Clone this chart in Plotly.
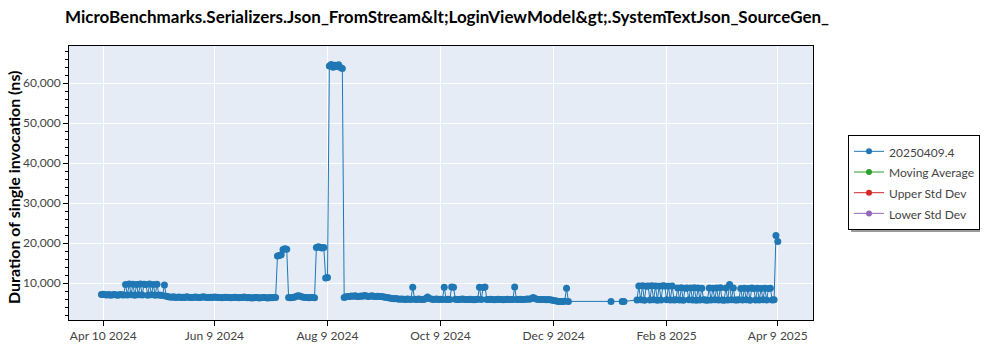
import datetime as dt
import plotly.graph_objects as go

TITLE = "MicroBenchmarks.Serializers.Json_FromStream&amp;lt;LoginViewModel&amp;gt;.SystemTextJson_SourceGen_"
SERIES_NAME = "20250409.4"
Y_TITLE = "Duration of single invocation (ns)"

# Daily runs: each block starts on the given date, one value per day (ns)
spring_start = "2024-04-09"
spring_ns = [
    7200, 7250, 7100, 7050, 7150, 7000, 7100, 7200, 7050, 7000, 7150, 7100, 7050,
    9700, 7050, 9800, 7100, 9750, 7000, 9700, 7100, 9800, 7050, 9750, 9700, 7000,
    9800, 7100, 9650, 7000, 9750, 7050,
    7000, 6950, 9550, 6750,
]

early_summer_start = "2024-05-15"
early_summer_ns = [
    6600, 6550, 6500, 6600, 6450, 6500, 6550, 6400, 6500, 6450,
    6600, 6500, 6400, 6450, 6500, 6550, 6450, 6400, 6500, 6600,
    6500, 6450, 6400, 6500, 6450, 6550, 6500, 6400, 6450, 6350,
    6400, 6500, 6450, 6400, 6350, 6450, 6500, 6400, 6350, 6400,
    6450, 6550, 6400, 6350, 6400, 6300, 6350, 6450, 6400, 6300,
    6350, 6400, 6450, 6350, 6300, 6400, 6350, 6400, 6450,
]

july_jump_start = "2024-07-13"
july_jump_ns = [16800, 16900, 17100, 18400, 18600, 18500]

late_july_start = "2024-07-19"
late_july_ns = [
    6400, 6350, 6450, 6500, 6700, 6850, 6800, 6600, 6500, 6450,
    6400, 6350, 6450, 6400, 6350,
]

august_jump_start = "2024-08-03"
august_jump_ns = [18900, 19100, 19000, 18800, 18950, 11300, 11400]

august_peak_start = "2024-08-10"
august_peak_ns = [64300, 64700, 64000, 64500, 64200, 64600, 63900, 63700]

late_summer_start = "2024-08-18"
late_summer_ns = [
    6450, 6600, 6700, 6650, 6800, 6750, 6850, 6700, 6650, 6800,
    6750, 6900, 6800, 6700, 6750, 6850, 6700, 6650, 6750, 6700,
    6650, 6600, 6500, 6400, 6350, 6250, 6200, 6100, 6150, 6050,
    6000, 6050, 6000, 5950, 6050, 6000, 5950,
]

autumn_start = "2024-09-24"
autumn_ns = [
    9000, 6000, 5950, 6050, 6000, 5900, 5950, 6150, 6550, 6200,
    6050, 5950, 6000, 6050, 5950, 6000, 5950,
]

october_start = "2024-10-11"
october_ns = [
    9000, 5950, 6000, 5900, 9050, 9000,
    6000, 5950, 5900, 6000, 6050, 5950, 5900, 5950, 6000, 5900, 5850, 5950, 6000,
    9000, 5950, 8950, 9050,
    5950, 5900, 6000, 5950, 5850, 5900, 6000, 5950, 5900, 5850, 5950, 6000, 5900,
    5950, 5900,
]

november_start = "2024-11-18"
november_ns = [
    9050,
    5950, 5900, 6000, 5950, 5900, 6000, 6050, 6000, 6150, 6450,
    6200, 6000, 5950, 5900, 5950, 5900, 5850, 5900, 5850,
    5800, 5700, 5600, 5500, 5450, 5400, 5450, 5500,
    8750, 5450,
]

january_start = "2025-01-09"
january_ns = [5400]

mid_january_start = "2025-01-15"
mid_january_ns = [5400, 5450]

winter_start = "2025-01-23"
winter_ns = [
    5800, 9300, 5850, 9350, 5750, 9250, 9300, 5800, 9350, 5850,
    9300, 5750, 9250, 5800, 9350, 9300, 5850, 9250, 5800, 9300,
    5800, 5850,
    8800, 5800, 8850, 5750, 8750, 8800, 5850, 8800, 5800, 8850,
    5750, 8800, 5800, 8750, 5850,
    5800, 5750,
    8800, 5800, 8750, 5850, 8800, 5800, 8850,
    5800,
    5750, 8800, 5800, 9700, 5850, 8800, 5800,
    5800, 5850,
    8700, 5800, 8750, 5850, 8700, 5750, 8800, 8700, 5800, 8750,
    5800, 8700, 5850, 8750, 5800, 8700, 8750, 5800, 5850,
    21900, 20400,
]

blocks = [
    (spring_start, spring_ns),
    (early_summer_start, early_summer_ns),
    (july_jump_start, july_jump_ns),
    (late_july_start, late_july_ns),
    (august_jump_start, august_jump_ns),
    (august_peak_start, august_peak_ns),
    (late_summer_start, late_summer_ns),
    (autumn_start, autumn_ns),
    (october_start, october_ns),
    (november_start, november_ns),
    (january_start, january_ns),
    (mid_january_start, mid_january_ns),
    (winter_start, winter_ns),
]

tick_labels = ["Apr 10 2024", "Jun 9 2024", "Aug 9 2024", "Oct 9 2024",
               "Dec 9 2024", "Feb 8 2025", "Apr 9 2025"]
legend_names = [SERIES_NAME, "Moving Average", "Upper Std Dev", "Lower Std Dev"]
legend_colors = ["#1f77b4", "#2ca02c", "#d62728", "#9467bd"]

dates, values = [], []
for start, block in blocks:
    day0 = dt.date.fromisoformat(start)
    for i, v in enumerate(block):
        dates.append(day0 + dt.timedelta(days=i))
        values.append(v)

tick_vals = [dt.datetime.strptime(t, "%b %d %Y").date() for t in tick_labels]

FONT = "Lato"
W, H = 1000, 350
M = dict(l=69, r=187, t=46, b=30)
PW, PH = W - M["l"] - M["r"], H - M["t"] - M["b"]


def legend_label(text):
    return f'<span style="font-size:12px">{text}</span>'


fig = go.Figure()
fig.add_trace(go.Scatter(
    x=dates, y=values, mode="lines+markers", name=SERIES_NAME, showlegend=False,
    line=dict(color="#1f77b4", width=1),
    marker=dict(color="#1f77b4", size=7),
))
# legend entries drawn with a uniform small symbol
for name, color in zip(legend_names, legend_colors):
    fig.add_trace(go.Scatter(
        x=[None], y=[None], mode="lines+markers", name=legend_label(name),
        line=dict(color=color, width=1), marker=dict(color=color, size=6),
    ))

# legend box in pixels: left, top, right, bottom
LEG = (848, 135, 977, 229)
SHADOW = 3

fig.update_layout(
    width=W, height=H,
    margin=M,
    plot_bgcolor="#e5ecf6", paper_bgcolor="white",
    font=dict(family=FONT, size=12, color="#444"),
    title=dict(text=TITLE, x=0.447, xanchor="center", y=0.95, yanchor="middle",
               font=dict(family=FONT, size=17, color="black", weight="bold")),
    showlegend=True,
    legend=dict(x=(LEG[0] - M["l"]) / PW, y=(H - M["b"] - LEG[1]) / PH,
                xanchor="left", yanchor="top", tracegroupgap=0,
                bgcolor="white", bordercolor="black", borderwidth=1,
                font=dict(size=13.6, color="#444")),
    shapes=[dict(
        type="rect", xref="paper", yref="paper", layer="above",
        x0=(LEG[0] + SHADOW - M["l"]) / PW, x1=(LEG[2] + SHADOW - M["l"]) / PW,
        y0=(H - M["b"] - LEG[3] - SHADOW) / PH, y1=(H - M["b"] - LEG[1] - SHADOW) / PH,
        fillcolor="#9a9a9a", line=dict(width=0),
    )],
    annotations=[dict(
        text=Y_TITLE, textangle=-90, showarrow=False,
        xref="paper", yref="paper", x=(14 - M["l"]) / PW, y=(H - M["b"] - 188) / PH,
        xanchor="center", yanchor="middle",
        font=dict(family=FONT, size=16, color="black", weight="bold"),
    )],
)
fig.update_xaxes(
    range=[dt.datetime(2024, 3, 22, 12), dt.datetime(2025, 4, 28)],
    tickvals=tick_vals, ticktext=tick_labels, automargin=False,
    showgrid=True, gridcolor="white", gridwidth=1,
    showline=True, linecolor="black", linewidth=1, mirror=True,
    ticks="outside", ticklen=5, tickcolor="black",
    zeroline=False,
)
fig.update_yaxes(
    range=[800, 69300], dtick=10000, tickformat=",", automargin=False,
    showgrid=True, gridcolor="white", gridwidth=1,
    showline=True, linecolor="black", linewidth=1, mirror=True,
    ticks="outside", ticklen=5, tickcolor="black",
    minor=dict(dtick=2000, ticks="outside", ticklen=3, tickcolor="black", showgrid=False),
    zeroline=False,
)

fig.write_html("out.html")
